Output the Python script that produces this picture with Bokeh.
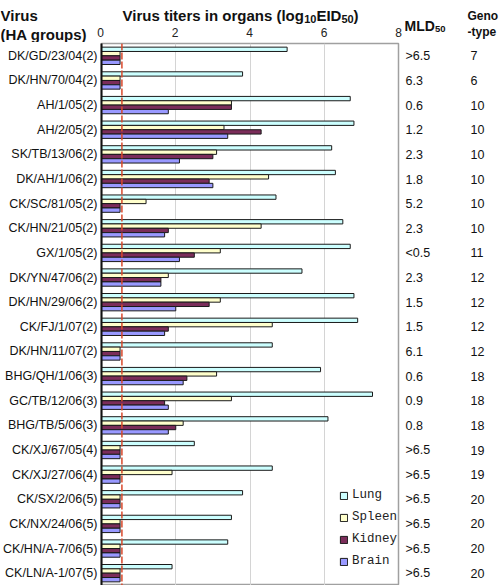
from bokeh.plotting import figure
from bokeh.models import (FactorRange, Range1d, FixedTicker, Span,
                          Legend, LegendItem, ColumnDataSource)
from bokeh.transform import dodge
from bokeh.layouts import row, column
from bokeh.embed import file_html
from bokeh.resources import INLINE
from bokeh.core.properties import value

# ---------------- data ----------------
viruses = ["DK/GD/23/04(2)", "DK/HN/70/04(2)", "AH/1/05(2)", "AH/2/05(2)",
           "SK/TB/13/06(2)", "DK/AH/1/06(2)", "CK/SC/81/05(2)", "CK/HN/21/05(2)",
           "GX/1/05(2)", "DK/YN/47/06(2)", "DK/HN/29/06(2)", "CK/FJ/1/07(2)",
           "DK/HN/11/07(2)", "BHG/QH/1/06(3)", "GC/TB/12/06(3)", "BHG/TB/5/06(3)",
           "CK/XJ/67/05(4)", "CK/XJ/27/06(4)", "CK/SX/2/06(5)", "CK/NX/24/06(5)",
           "CK/HN/A-7/06(5)", "CK/LN/A-1/07(5)"]
lung = [5.0, 3.8, 6.7, 6.8, 6.2, 6.3, 4.7, 6.5, 6.7, 5.4, 6.8,
        6.9, 4.6, 5.9, 7.3, 6.1, 2.5, 4.6, 3.8, 3.5, 3.4, 1.9]
spleen = [0.5, 0.5, 3.5, 3.3, 3.1, 4.5, 1.2, 4.3, 3.2, 1.8, 3.2,
          4.6, 0.5, 3.1, 3.5, 2.2, 0.5, 1.9, 0.5, 0.5, 0.5, 0.5]
kidney = [0.5, 0.5, 3.5, 4.3, 3.0, 2.9, 0.5, 1.8, 2.5, 1.6, 2.9,
          1.8, 0.5, 2.3, 1.7, 2.0, 0.5, 0.5, 0.5, 0.5, 0.5, 0.5]
brain = [0.5, 0.5, 1.8, 3.4, 2.1, 3.0, 0.5, 1.7, 2.1, 1.6, 2.0,
         1.7, 0.5, 2.2, 1.8, 1.8, 0.5, 0.5, 0.5, 0.5, 0.5, 0.5]
mld50 = [">6.5", "6.3", "0.6", "1.2", "2.3", "1.8", "5.2", "2.3", "<0.5", "2.3", "1.5",
         "1.5", "6.1", "0.6", "0.9", "0.8", ">6.5", ">6.5", ">6.5", ">6.5", ">6.5", ">6.5"]
genotype = ["7", "6", "10", "10", "10", "10", "10", "10", "11", "12", "12",
            "12", "12", "18", "18", "18", "19", "19", "20", "20", "20", "20"]
organs = ["Lung", "Spleen", "Kidney", "Brain"]
x_ticks = [0, 2, 4, 6, 8]
detection_limit = 0.55

# header texts
left_header = ["Virus", "(HA groups)"]
title_main = ["Virus titers in organs (log", "EID", ")"]
title_sub = ["10", "50"]
mld_header = ["MLD", "50"]
geno_header = ["Geno", "-type"]

# ---------------- styles ----------------
colors = ["#CCFFFF", "#FFFFCC", "#7B2D5A", "#9999FF"]
bar_h = 0.176
offsets = [1.5 * bar_h, 0.5 * bar_h, -0.5 * bar_h, -1.5 * bar_h]
SANS = "Liberation Sans"
HEAD_H = 42
MAIN_H = 543
INK = "#111111"
common = dict(toolbar_location=None, output_backend="svg", frame_align=False)

src = ColumnDataSource(dict(virus=viruses, Lung=lung, Spleen=spleen,
                            Kidney=kidney, Brain=brain, mld=mld50, geno=genotype))
yr = FactorRange(factors=viruses[::-1])


def bare(fig):
    fig.grid.visible = False
    fig.outline_line_color = None
    return fig


# ---------------- main bar chart ----------------
p = figure(width=400, height=MAIN_H, x_range=Range1d(0, 8), y_range=yr,
           x_axis_location=None, min_border_left=100, min_border_right=2,
           min_border_top=1, min_border_bottom=0, **common)

items = []
for org, col, off in zip(organs, colors, offsets):
    r = p.hbar(y=dodge("virus", off, range=yr), left=0, right=org, height=bar_h,
               source=src, fill_color=col, line_color="#1a1a1a", line_width=1)
    items.append(LegendItem(label=org, renderers=[r]))

p.add_layout(Span(location=detection_limit, dimension="height", line_color="#D9482B",
                  line_width=1.5, line_dash="7 2"))

ya = p.yaxis[0]
ya.major_label_text_font = SANS
ya.major_label_text_font_size = "12.5px"
ya.major_label_text_color = INK
ya.axis_line_color = INK
ya.axis_line_width = 2
ya.major_tick_line_color = None
ya.minor_tick_line_color = None
ya.major_tick_out = 0
ya.major_tick_in = 0
ya.major_label_standoff = 4

p.xgrid.ticker = FixedTicker(ticks=x_ticks[1:-1])
p.xgrid.grid_line_color = "#D4D4D4"
p.ygrid.visible = False
p.outline_line_color = "#A0A0A0"
p.outline_line_width = 1.5

legend = Legend(items=items, location=(238, 14), background_fill_alpha=0,
                border_line_color=None, glyph_width=9, glyph_height=9,
                label_text_font="Liberation Mono", label_text_font_size="12.5px",
                label_text_color="#222222",
                label_standoff=4, spacing=2, padding=0, margin=0, label_height=20)
p.add_layout(legend)

# ---------------- right columns (MLD50, genotype) ----------------
p2 = bare(figure(width=100, height=MAIN_H, x_range=Range1d(0, 100), y_range=yr,
                 min_border_left=0, min_border_right=0, min_border_top=1,
                 min_border_bottom=0, x_axis_location=None, y_axis_location=None,
                 **common))
txt = dict(source=src, text_font=value(SANS), text_font_size="12.5px",
           text_baseline="middle", text_color=INK)
p2.text(x=5, y="virus", text="mld", **txt)
p2.text(x=70, y="virus", text="geno", **txt)

# ---------------- header row ----------------
bold = dict(text_font=value(SANS), text_font_style="bold", text_color=INK,
            text_baseline="alphabetic")

h_left = bare(figure(width=94, height=HEAD_H, x_range=Range1d(0, 94),
                     y_range=Range1d(HEAD_H, 0), min_border=0,
                     x_axis_location=None, y_axis_location=None, **common))
h_left.text(x=[0, 0], y=[15, 34], text=left_header, text_font_size="15px", **bold)

h_mid = figure(width=310, height=HEAD_H, x_range=p.x_range, y_range=Range1d(26, 0),
               min_border_left=6, min_border_right=6, min_border_top=0,
               min_border_bottom=16, x_axis_location="below", y_axis_location=None,
               **common)
bare(h_mid)
h_mid.extra_x_ranges = {"px": Range1d(0, 298)}
xa = h_mid.xaxis[0]
xa.ticker = FixedTicker(ticks=x_ticks)
xa.major_label_text_font = SANS
xa.major_label_text_font_size = "12px"
xa.major_label_text_color = "#222222"
xa.axis_line_color = None
xa.major_tick_line_color = None
xa.minor_tick_line_color = None
xa.major_tick_out = 0
xa.major_tick_in = 0
xa.major_label_standoff = 1
h_mid.text(x=[22, 215.9, 253.1], y=[15, 15, 15], text=title_main,
           text_font_size="15px", x_range_name="px", **bold)
h_mid.text(x=[203.7, 240.9], y=[18, 18], text=title_sub,
           text_font_size="11px", x_range_name="px", **bold)

h_right = bare(figure(width=96, height=HEAD_H, x_range=Range1d(0, 96),
                      y_range=Range1d(HEAD_H, 0), min_border=0,
                      x_axis_location=None, y_axis_location=None, **common))
h_right.text(x=[0], y=[25.5], text=mld_header[:1], text_font_size="14px", **bold)
h_right.text(x=[30.5], y=[28.5], text=mld_header[1:], text_font_size="9.5px", **bold)
h_right.text(x=[63, 63], y=[15, 31], text=geno_header, text_font_size="12px", **bold)

layout = column(row(h_left, h_mid, h_right), row(p, p2))
open("out.html", "w").write(file_html(layout, INLINE))
